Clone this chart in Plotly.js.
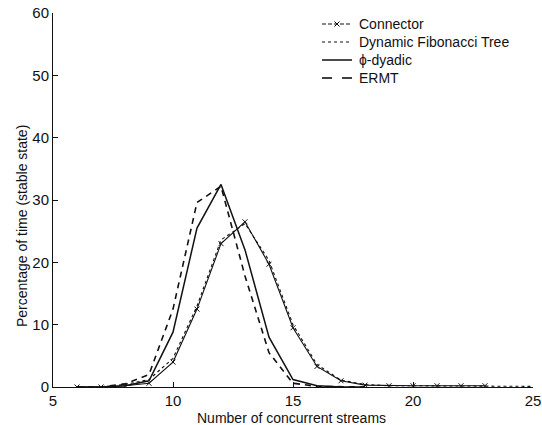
<!DOCTYPE html>
<html>
<head>
<meta charset="utf-8">
<script src="https://cdn.plot.ly/plotly-3.0.1.min.js"></script>
<style>
  html, body { margin: 0; padding: 0; background: #fff; }
  #chart { width: 542px; height: 425px; }
</style>
</head>
<body>
<div id="chart"></div>
<script>
// Number of concurrent streams on the x axis, share of time on the y axis
const streamsConnector = [6, 7, 8, 9, 10, 11, 12, 13, 14, 15, 16, 17, 18, 19, 20, 21, 22, 23];
const connectorPct     = [0, 0, 0.2, 0.6, 4.0, 12.5, 23.0, 26.5, 19.7, 9.5, 3.3, 1.0, 0.3, 0.2, 0.2, 0.2, 0.2, 0.2];

const streamsFib = [6, 7, 8, 9, 10, 11, 12, 13, 14, 15, 16, 17, 18, 19, 20, 21, 22, 23, 24, 25];
const fibPct     = [0, 0, 0.4, 1.2, 4.6, 13.0, 23.6, 26.2, 20.3, 10.0, 3.6, 1.1, 0.4, 0.2, 0.2, 0.2, 0.2, 0.2, 0.1, 0.1];

const streamsDyadic = [6, 7, 8, 9, 10, 11, 12, 13, 14, 15, 16, 17, 18];
const dyadicPct     = [0, 0, 0.2, 1.0, 8.8, 25.5, 32.5, 22.0, 8.0, 1.2, 0.2, 0, 0];

const streamsErmt = [6, 7, 8, 9, 10, 11, 12, 13, 14, 15, 16, 17, 18];
const ermtPct     = [0, 0, 0.5, 2.0, 12.5, 29.6, 32.2, 17.8, 5.5, 0.6, 0.1, 0, 0];

const xTicks = [5, 10, 15, 20, 25];
const yTicks = [0, 10, 20, 30, 40, 50, 60];

const seriesNames = ['Connector', 'Dynamic Fibonacci Tree', '\u03D5-dyadic', 'ERMT'];
const xTitle = 'Number of concurrent streams';
const yTitle = 'Percentage of time (stable state)';

const FONT = 'Liberation Sans, Arial, Helvetica, sans-serif';
const INK = '#111';

const styles = [
  { color: INK, width: 1.1, dash: 'solid' },
  { color: INK, width: 1.1, dash: 'dot' },
  { color: INK, width: 1.5, dash: 'solid' },
  { color: INK, width: 1.6, dash: '6px,5px' }
];

const traces = [
  {
    x: streamsConnector, y: connectorPct, name: seriesNames[0],
    mode: 'lines+markers', type: 'scatter', line: styles[0],
    marker: { symbol: 'x-thin', size: 5, color: INK, line: { color: INK, width: 1 } }
  },
  { x: streamsFib, y: fibPct, name: seriesNames[1], mode: 'lines', type: 'scatter', line: styles[1] },
  { x: streamsDyadic, y: dyadicPct, name: seriesNames[2], mode: 'lines', type: 'scatter', line: styles[2] },
  { x: streamsErmt, y: ermtPct, name: seriesNames[3], mode: 'lines', type: 'scatter', line: styles[3] }
];

// Plot area geometry in pixels, used to place the key in paper coordinates
const M = { l: 53, r: 9, t: 13, b: 38 };
const W = 542, H = 425;
const PW = W - M.l - M.r, PH = H - M.t - M.b;
const px2x = p => (p - M.l) / PW;
const px2y = p => (H - M.b - p) / PH;

// Key: short line samples with labels, top right of the axes
const keyLeft = 322, keyRight = 352, keyText = 357, keyTop = 24, keyStep = 18;
const shapes = [];
const annotations = [];
seriesNames.forEach((name, i) => {
  const yy = px2y(keyTop + i * keyStep);
  if (i === 3) {
    // two short dashes
    [[keyLeft, keyLeft + 10], [keyRight - 10, keyRight]].forEach(([a, b]) => {
      shapes.push({ type: 'line', xref: 'paper', yref: 'paper', x0: px2x(a), x1: px2x(b), y0: yy, y1: yy,
                    line: { color: INK, width: 1.6 } });
    });
  } else {
    shapes.push({ type: 'line', xref: 'paper', yref: 'paper', x0: px2x(keyLeft), x1: px2x(keyRight), y0: yy, y1: yy,
                  line: { color: INK, width: styles[i].width, dash: i === 1 ? 'dot' : (i === 0 ? '4px,2px' : 'solid') } });
  }
  if (i === 0) {
    const cx = (keyLeft + keyRight) / 2, cy = keyTop;
    [[-2.5, -2.5, 2.5, 2.5], [-2.5, 2.5, 2.5, -2.5]].forEach(([a, b, c, d]) => {
      shapes.push({ type: 'line', xref: 'paper', yref: 'paper',
                    x0: px2x(cx + a), y0: px2y(cy + b), x1: px2x(cx + c), y1: px2y(cy + d),
                    line: { color: INK, width: 1 } });
    });
  }
  annotations.push({ xref: 'paper', yref: 'paper', x: px2x(keyText), y: yy, xanchor: 'left', yanchor: 'middle',
                     text: name, showarrow: false, font: { family: FONT, size: 14, color: INK } });
});

// Axis titles
annotations.push({ xref: 'paper', yref: 'paper', x: px2x(291), y: px2y(418), xanchor: 'center', yanchor: 'middle',
                   text: xTitle, showarrow: false, font: { family: FONT, size: 14, color: INK } });
annotations.push({ xref: 'paper', yref: 'paper', x: px2x(22), y: px2y(226), xanchor: 'center', yanchor: 'middle',
                   textangle: -90, text: yTitle, showarrow: false, font: { family: FONT, size: 14, color: INK } });

const axisCommon = {
  showgrid: false, zeroline: false,
  showline: true, linecolor: INK, linewidth: 1,
  ticks: 'inside', ticklen: 5, tickcolor: INK,
  tickfont: { family: FONT, size: 15, color: INK }
};

const layout = {
  width: W, height: H,
  margin: { l: M.l, r: M.r, t: M.t, b: M.b, pad: 0 },
  paper_bgcolor: '#fff', plot_bgcolor: '#fff',
  font: { family: FONT, size: 14, color: INK },
  showlegend: false,
  xaxis: Object.assign({ range: [5, 25], tickvals: xTicks, ticktext: xTicks.map(String), ticklabelstandoff: 0 }, axisCommon),
  yaxis: Object.assign({ range: [0, 60], tickvals: yTicks, ticktext: yTicks.map(String) }, axisCommon),
  shapes: shapes,
  annotations: annotations
};

Plotly.newPlot('chart', traces, layout, { staticPlot: true, displayModeBar: false });
</script>
</body>
</html>
